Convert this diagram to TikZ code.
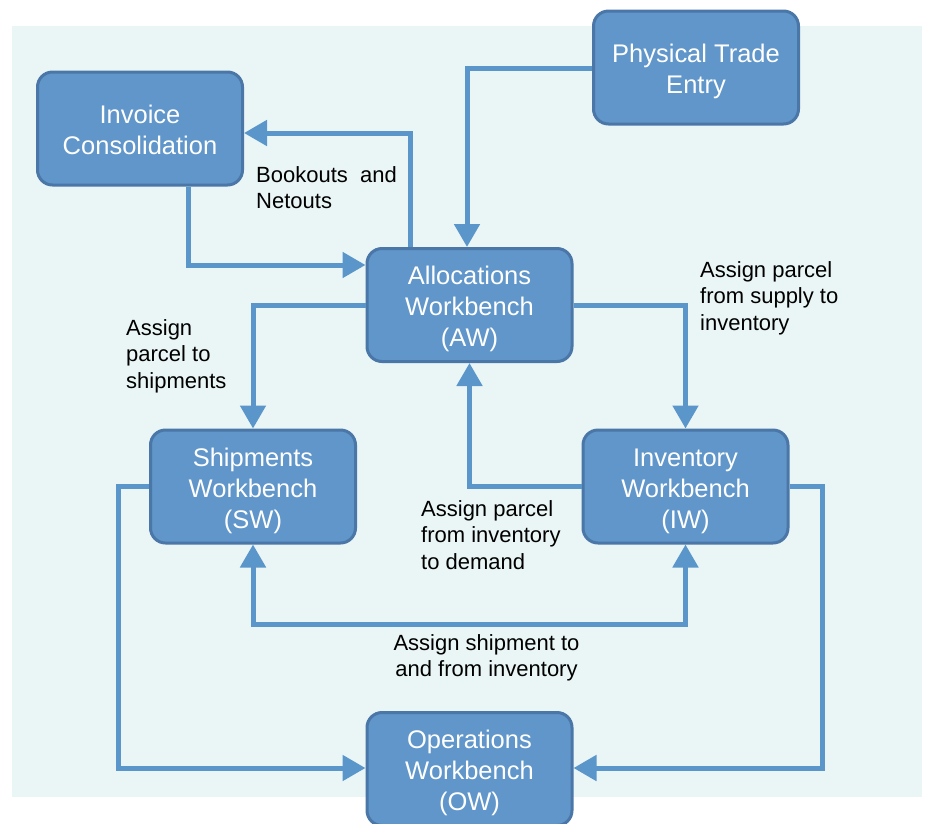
\documentclass[tikz,border=0pt]{standalone}
\usepackage{fontspec}
\setmainfont{Liberation Sans}
\usetikzlibrary{arrows.meta}
\definecolor{bgcol}{HTML}{EAF5F5}
\definecolor{boxfill}{HTML}{6096C9}
\definecolor{boxline}{HTML}{4A76A8}
\definecolor{conncol}{HTML}{5B96CB}
\newcommand\myTopStrut{\rule{0pt}{28.2pt}}
\newcommand\myBotStrut{\rule[-7pt]{0pt}{7pt}}
\begin{document}
\begin{tikzpicture}[x=1pt,y=-1pt,
  wb/.style={draw=boxline, line width=3pt, fill=boxfill, rounded corners=15pt,
    text=white, align=center, inner sep=0pt,
    font=\fontsize{25.5}{31}\selectfont,
    minimum width=205pt, minimum height=113pt},
  lbl/.style={inner sep=0pt, text=black, font=\fontsize{22}{26.5}\selectfont},
  conn/.style={draw=conncol, line width=5pt,
    -{Triangle[width=25pt,length=23pt]}},
  conn2/.style={draw=conncol, line width=5pt,
    {Triangle[width=25pt,length=23pt]}-{Triangle[width=25pt,length=23pt]}}]
\useasboundingbox (0,0) rectangle (927,823);
\fill[bgcol] (12,26) rectangle (922,797);

\node[wb] (inv) at (140,128.5) {\myTopStrut Invoice\\Consolidation\myBotStrut};
\node[wb] (pte) at (696,67.5) {\myTopStrut Physical Trade\\Entry\myBotStrut};
\node[wb] (aw) at (469.5,305) {\myTopStrut Allocations\\Workbench\\(AW)\myBotStrut};
\node[wb] (sw) at (253,486.5) {\myTopStrut Shipments\\Workbench\\(SW)\myBotStrut};
\node[wb] (iw) at (685.5,486.5) {\myTopStrut Inventory\\Workbench\\(IW)\myBotStrut};
\node[wb] (ow) at (469.5,769) {\myTopStrut Operations\\Workbench\\(OW)\myBotStrut};

\coordinate (c1) at (188,265);
\coordinate (c2) at (410,133);
\coordinate (c3) at (467,68);
\coordinate (c7) at (469,624);
\coordinate (c8) at (118,768);
\coordinate (c9) at (822,768);

\draw[conn] (inv.south -| c1) -- (c1) -- (aw.west |- c1);
\draw[conn] (aw.north -| c2) -- (c2) -- (inv.east |- c2);
\draw[conn] (pte.west |- c3) -- (c3) -- (aw.north -| c3);
\draw[conn] (aw.west) -| (sw.north);
\draw[conn] (aw.east) -| (iw.north);
\draw[conn] (iw.west) -| (aw.south);
\draw[conn2] (sw.south) |- (c7) -| (iw.south);
\draw[conn] (sw.west) -| (c8) -- (ow.west |- c8);
\draw[conn] (iw.east) -| (c9) -- (ow.east |- c9);

\node[lbl, anchor=north west, align=left] (l1) at (256,166) {Bookouts\ \ and\\Netouts};
\node[lbl, anchor=north west, align=left] (l2) at (126,319) {Assign\\parcel to\\shipments};
\node[lbl, anchor=north west, align=left] (l3) at (700,261) {Assign parcel\\from supply to\\inventory};
\node[lbl, anchor=north west, align=left] (l4) at (421,500) {Assign parcel\\from inventory\\to demand};
\node[lbl, anchor=north, align=center] (l5) at (486.5,634) {Assign shipment to\\and from inventory};
\end{tikzpicture}
\end{document}
